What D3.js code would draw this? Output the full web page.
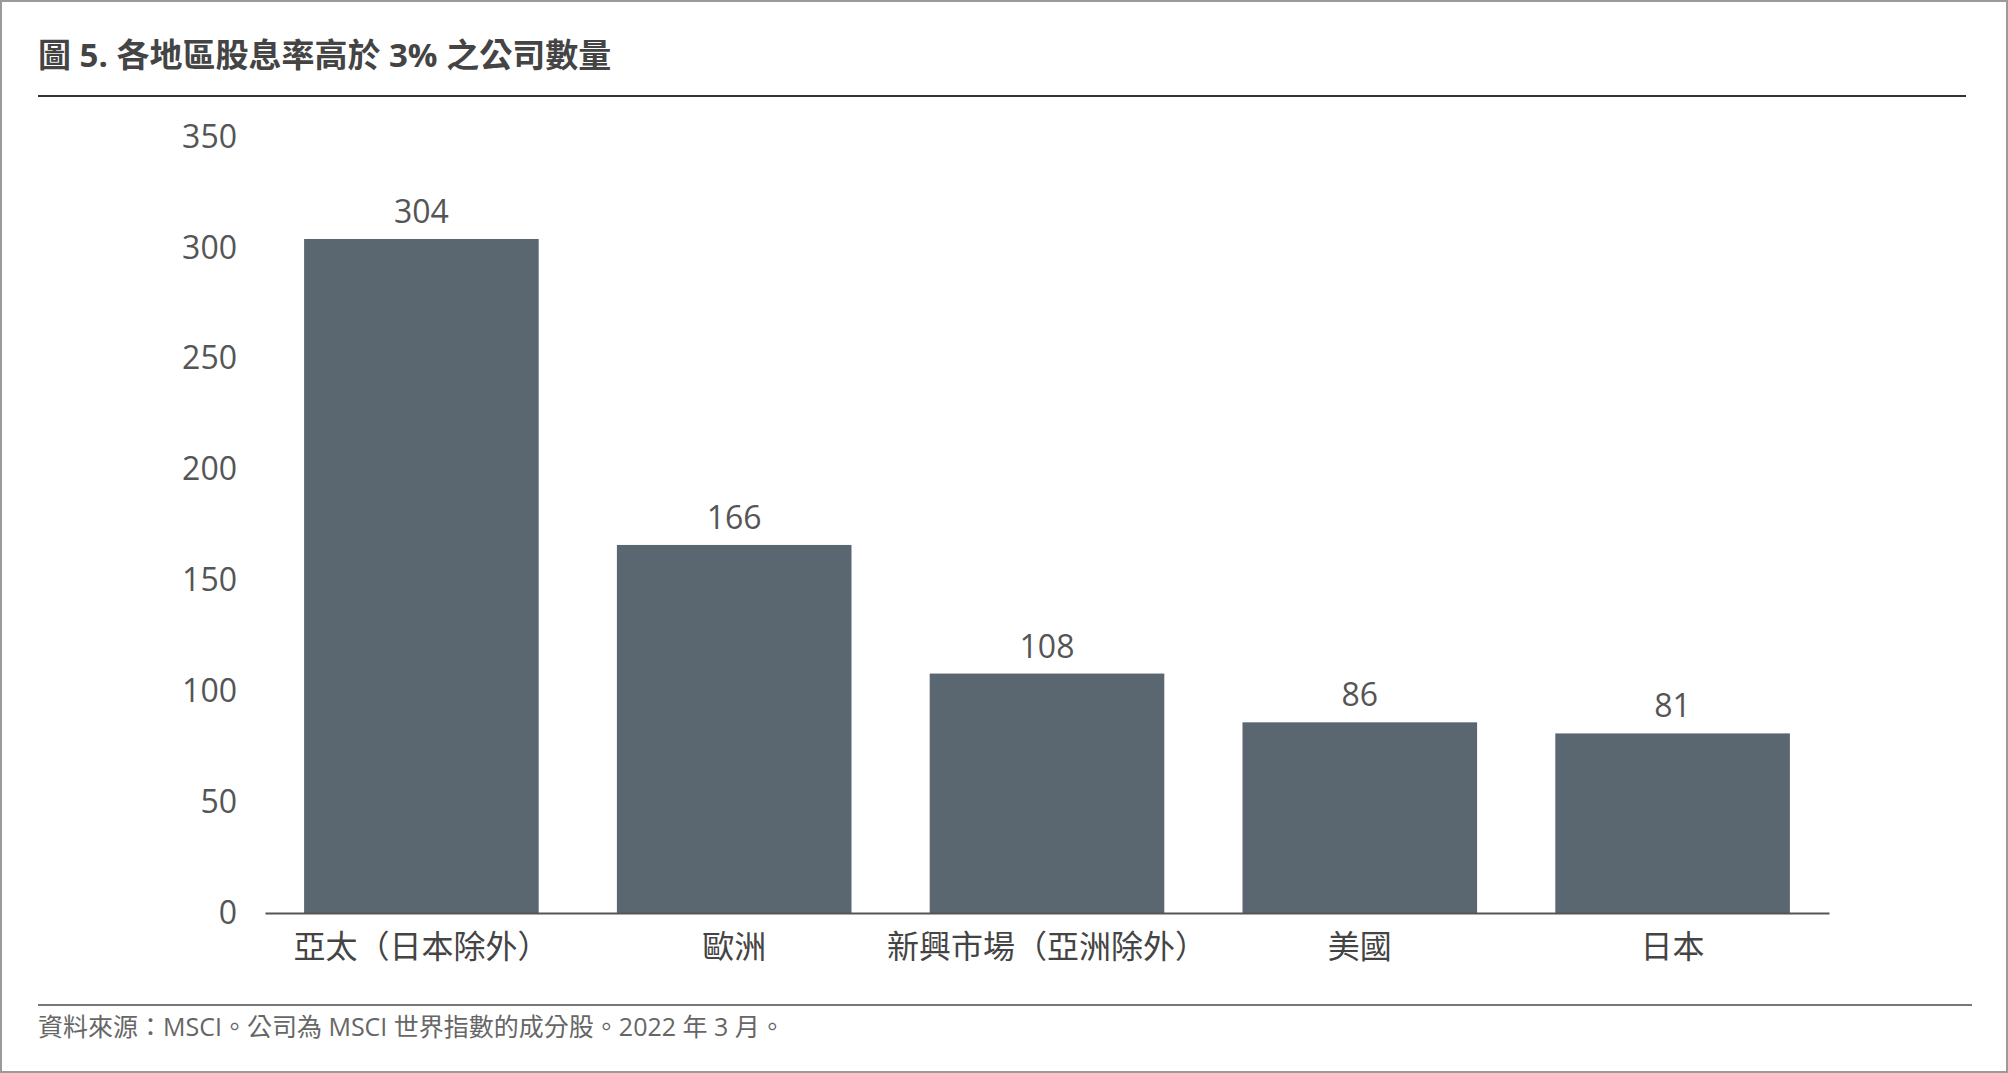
<!DOCTYPE html>
<html><head><meta charset="utf-8">
<script src="https://cdn.jsdelivr.net/npm/d3@7"></script>
<style>body{margin:0;background:#fff}svg{display:block}</style>
</head><body><svg id="chart"></svg>
<script>
const width = 2008, height = 1073;
const font = '"Open Sans","Noto Sans CJK TC",sans-serif';

const categories = ['亞太（日本除外）', '歐洲', '新興市場（亞洲除外）', '美國', '日本'];
const values = [304, 166, 108, 86, 81];
const yTicks = [0, 50, 100, 150, 200, 250, 300, 350];

const svg = d3.select('#chart').attr('width', width).attr('height', height);

svg.append('rect').attr('x', 1).attr('y', 1).attr('width', width - 2).attr('height', height - 2)
    .attr('fill', 'none').attr('stroke', '#9a9a9a').attr('stroke-width', 2);

svg.append('text').attr('x', 38).attr('y', 67)
    .attr('font-family', font).attr('font-size', 33).attr('font-weight', 'bold').attr('fill', '#444')
    .text('圖 5. 各地區股息率高於 3% 之公司數量');
svg.append('line').attr('x1', 38).attr('x2', 1966).attr('y1', 96).attr('y2', 96)
    .attr('stroke', '#333').attr('stroke-width', 2);

const x = d3.scaleBand().domain(categories).range([265, 1829]).paddingInner(0.25).paddingOuter(0.125);
const y = d3.scaleLinear().domain([0, 350]).range([913, 137]);

svg.selectAll('rect.bar').data(values).enter().append('rect').attr('class', 'bar')
    .attr('x', (d, i) => x(categories[i]))
    .attr('y', d => y(d))
    .attr('width', x.bandwidth())
    .attr('height', d => y(0) - y(d))
    .attr('fill', '#5b6770');

svg.selectAll('text.val').data(values).enter().append('text').attr('class', 'val')
    .attr('x', (d, i) => x(categories[i]) + x.bandwidth() / 2)
    .attr('y', d => y(d) - 16)
    .attr('text-anchor', 'middle')
    .attr('font-family', font).attr('font-size', 32).attr('fill', '#555')
    .text(d => d);

const yAxis = svg.append('g').attr('transform', 'translate(237,0)')
    .call(d3.axisLeft(y).tickValues(yTicks).tickSize(0).tickPadding(0));
yAxis.select('.domain').remove();
yAxis.selectAll('text').attr('font-family', font).attr('font-size', 32).attr('fill', '#555');

const xAxis = svg.append('g').attr('transform', 'translate(0,913)')
    .call(d3.axisBottom(x).tickSize(0).tickPadding(22));
xAxis.select('.domain').attr('stroke', '#555').attr('stroke-width', 2);
xAxis.selectAll('text').attr('font-family', font).attr('font-size', 32).attr('fill', '#444');

svg.append('line').attr('x1', 38).attr('x2', 1972).attr('y1', 1005).attr('y2', 1005)
    .attr('stroke', '#777').attr('stroke-width', 2);
svg.append('text').attr('x', 38).attr('y', 1036)
    .attr('font-family', font).attr('font-size', 25).attr('fill', '#666')
    .text('資料來源：MSCI。公司為 MSCI 世界指數的成分股。2022 年 3 月。');
</script></body></html>
